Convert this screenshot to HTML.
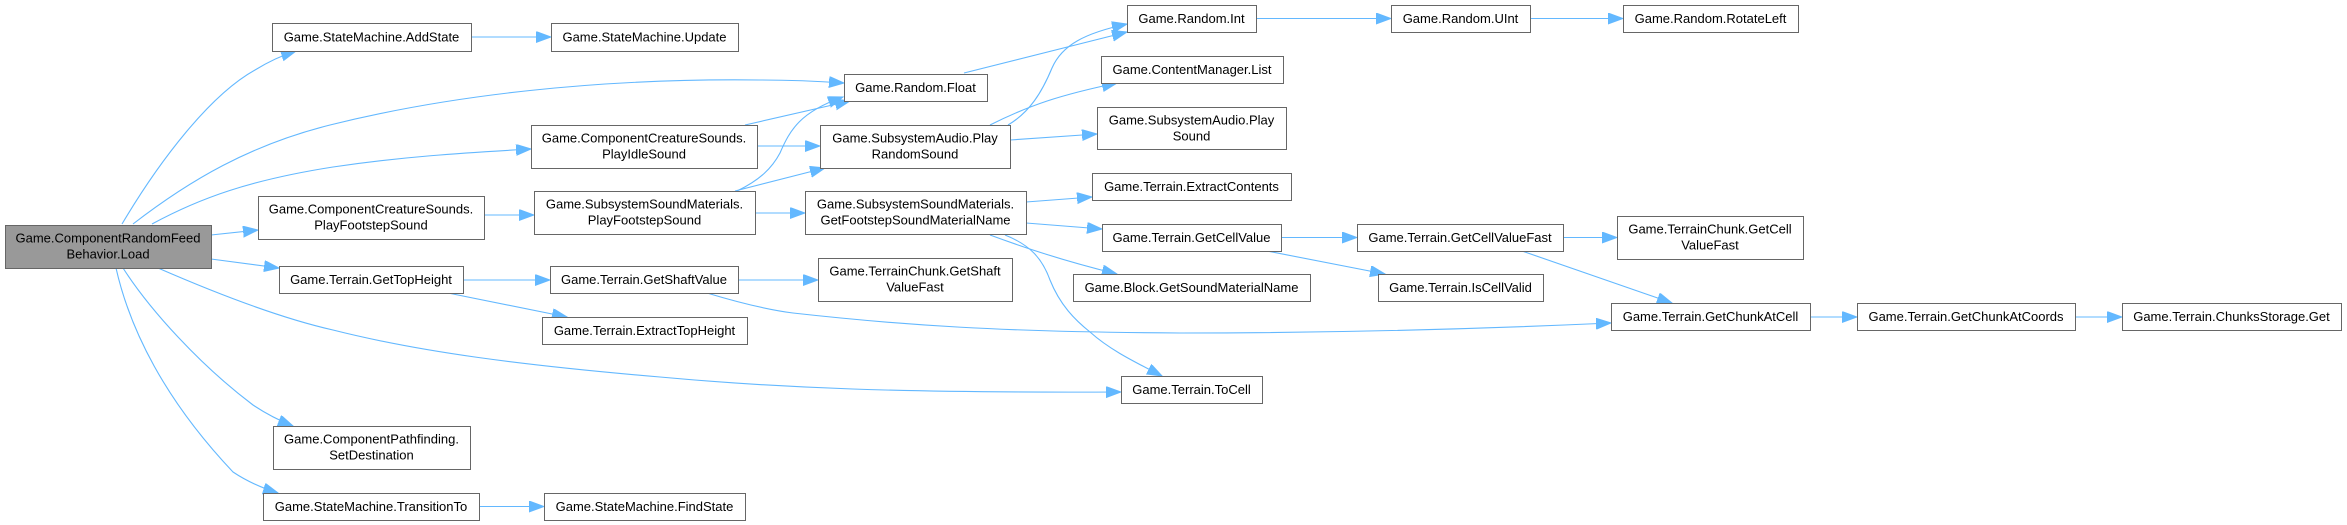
<!DOCTYPE html>
<html>
<head>
<meta charset="utf-8">
<style>
html,body{margin:0;padding:0;background:#fff;}
svg{display:block;}
text{font-family:"Liberation Sans",Arial,sans-serif;font-size:13px;fill:#000;text-anchor:middle;}
.n{fill:#fff;stroke:#666;stroke-width:1;}
.r{fill:#999;stroke:#666;stroke-width:1;}
.e{fill:none;stroke:#63b8ff;stroke-width:1.1;marker-end:url(#a);}
</style>
</head>
<body>
<svg width="2347" height="525" viewBox="0 0 2347 525" xmlns="http://www.w3.org/2000/svg">
<defs>
<marker id="a" markerWidth="16" markerHeight="12" refX="15" refY="5.5" orient="auto" markerUnits="userSpaceOnUse">
<path d="M0,0 L15,5.5 L0,11 z" fill="#63b8ff" stroke="#63b8ff" stroke-width="1"/>
</marker>
</defs>

<!-- edges -->
<path class="e" d="M471,37 L551,37"/>
<path class="e" d="M1256,18.5 L1391,18.5"/>
<path class="e" d="M1530,18.5 L1623,18.5"/>
<path class="e" d="M122,224 C160,160 210,95 255,70 C268,62 280,56 296,51"/>
<path class="e" d="M133,224 C190,180 250,145 330,125 C450,95 600,78 760,80 C790,80 815,81 844,83"/>
<path class="e" d="M152,224 C200,198 250,180 333,167 C400,157 460,153 531,149"/>
<path class="e" d="M211,235 L258,230"/>
<path class="e" d="M211,259 L279,268"/>
<path class="e" d="M158,268 C220,295 280,318 333,330 C420,352 520,365 660,377 C780,388 900,393 1121,392"/>
<path class="e" d="M123,268 C150,310 200,365 253,405 C265,413 278,420 293,426"/>
<path class="e" d="M116,268 C130,330 165,400 233,472 C248,482 262,488 278,493"/>
<path class="e" d="M484,215 L534,215"/>
<path class="e" d="M463,280 L550,280"/>
<path class="e" d="M448,293 L567,317"/>
<path class="e" d="M479,506.5 L544,506.5"/>
<path class="e" d="M745,125 L850,101"/>
<path class="e" d="M757,146 L820,146"/>
<path class="e" d="M737,191 C760,180 772,168 780,153 C790,130 800,112 843,97"/>
<path class="e" d="M735,191 L825,168"/>
<path class="e" d="M755,213 L805,213"/>
<path class="e" d="M738,280 L818,280"/>
<path class="e" d="M707,293 C740,303 770,310 793,313 C900,325 1000,332 1180,333 C1350,333 1500,328 1611,323"/>
<path class="e" d="M964,73 L1127,32"/>
<path class="e" d="M1008,125 C1030,112 1042,92 1052,68 C1062,45 1085,33 1127,24"/>
<path class="e" d="M990,125 C1030,105 1060,95 1117,83"/>
<path class="e" d="M1010,140 L1097,134"/>
<path class="e" d="M1026,202 L1092,197"/>
<path class="e" d="M1026,223 L1102,229"/>
<path class="e" d="M990,235 C1020,246 1060,260 1117,274"/>
<path class="e" d="M1005,235 C1030,245 1042,258 1050,280 C1060,305 1075,320 1090,332 C1110,350 1135,362 1162,376"/>
<path class="e" d="M1281,237.5 L1357,237.5"/>
<path class="e" d="M1267,251 L1385,274"/>
<path class="e" d="M1563,237.5 L1617,237.5"/>
<path class="e" d="M1522,251 L1672,303"/>
<path class="e" d="M1810,317 L1857,317"/>
<path class="e" d="M2075,317 L2122,317"/>

<!-- root node -->
<rect class="r" x="5.5" y="225.5" width="206" height="43"/>
<text x="108" y="242.5">Game.ComponentRandomFeed</text>
<text x="108" y="258.5">Behavior.Load</text>

<!-- single-line nodes -->
<rect class="n" x="272.5" y="23.5" width="199" height="28"/><text x="371.5" y="41.5">Game.StateMachine.AddState</text>
<rect class="n" x="551.5" y="23.5" width="187" height="28"/><text x="644.5" y="41.5">Game.StateMachine.Update</text>
<rect class="n" x="1127.5" y="5.5" width="129" height="27"/><text x="1191.5" y="23">Game.Random.Int</text>
<rect class="n" x="1391.5" y="5.5" width="139" height="27"/><text x="1460.5" y="23">Game.Random.UInt</text>
<rect class="n" x="1623.5" y="5.5" width="175" height="27"/><text x="1710.5" y="23">Game.Random.RotateLeft</text>
<rect class="n" x="1101.5" y="56.5" width="182" height="27"/><text x="1192" y="74">Game.ContentManager.List</text>
<rect class="n" x="844.5" y="74.5" width="143" height="27"/><text x="915.5" y="92">Game.Random.Float</text>
<rect class="n" x="1092.5" y="173.5" width="199" height="27"/><text x="1191.5" y="191">Game.Terrain.ExtractContents</text>
<rect class="n" x="1102.5" y="224.5" width="179" height="27"/><text x="1191.5" y="242">Game.Terrain.GetCellValue</text>
<rect class="n" x="1357.5" y="224.5" width="206" height="27"/><text x="1460" y="242">Game.Terrain.GetCellValueFast</text>
<rect class="n" x="279.5" y="266.5" width="184" height="27"/><text x="371" y="284">Game.Terrain.GetTopHeight</text>
<rect class="n" x="550.5" y="266.5" width="188" height="27"/><text x="644" y="284">Game.Terrain.GetShaftValue</text>
<rect class="n" x="1073.5" y="274.5" width="237" height="27"/><text x="1191.5" y="292">Game.Block.GetSoundMaterialName</text>
<rect class="n" x="1378.5" y="274.5" width="165" height="27"/><text x="1460.5" y="292">Game.Terrain.IsCellValid</text>
<rect class="n" x="1611.5" y="303.5" width="199" height="27"/><text x="1710.5" y="321">Game.Terrain.GetChunkAtCell</text>
<rect class="n" x="1857.5" y="303.5" width="218" height="27"/><text x="1966" y="321">Game.Terrain.GetChunkAtCoords</text>
<rect class="n" x="2122.5" y="303.5" width="219" height="27"/><text x="2231.5" y="321">Game.Terrain.ChunksStorage.Get</text>
<rect class="n" x="542.5" y="317.5" width="205" height="27"/><text x="644.5" y="335">Game.Terrain.ExtractTopHeight</text>
<rect class="n" x="1121.5" y="376.5" width="141" height="27"/><text x="1191.5" y="394">Game.Terrain.ToCell</text>
<rect class="n" x="263.5" y="493.5" width="216" height="27"/><text x="371" y="511">Game.StateMachine.TransitionTo</text>
<rect class="n" x="544.5" y="493.5" width="201" height="27"/><text x="644.5" y="511">Game.StateMachine.FindState</text>

<!-- two-line nodes -->
<rect class="n" x="531.5" y="125.5" width="226" height="43"/>
<text x="644" y="142.5">Game.ComponentCreatureSounds.</text><text x="644" y="158.5">PlayIdleSound</text>

<rect class="n" x="820.5" y="125.5" width="190" height="43"/>
<text x="915" y="142.5">Game.SubsystemAudio.Play</text><text x="915" y="158.5">RandomSound</text>

<rect class="n" x="1097.5" y="107.5" width="189" height="42"/>
<text x="1191.5" y="124.5">Game.SubsystemAudio.Play</text><text x="1191.5" y="140.5">Sound</text>

<rect class="n" x="258.5" y="196.5" width="226" height="43"/>
<text x="371" y="213.5">Game.ComponentCreatureSounds.</text><text x="371" y="229.5">PlayFootstepSound</text>

<rect class="n" x="534.5" y="191.5" width="221" height="43"/>
<text x="644.5" y="208.5">Game.SubsystemSoundMaterials.</text><text x="644.5" y="224.5">PlayFootstepSound</text>

<rect class="n" x="805.5" y="191.5" width="221" height="43"/>
<text x="915.5" y="208.5">Game.SubsystemSoundMaterials.</text><text x="915.5" y="224.5">GetFootstepSoundMaterialName</text>

<rect class="n" x="818.5" y="258.5" width="194" height="43"/>
<text x="915" y="275.5">Game.TerrainChunk.GetShaft</text><text x="915" y="291.5">ValueFast</text>

<rect class="n" x="1617.5" y="216.5" width="186" height="43"/>
<text x="1710" y="233.5">Game.TerrainChunk.GetCell</text><text x="1710" y="249.5">ValueFast</text>

<rect class="n" x="273.5" y="426.5" width="197" height="43"/>
<text x="371.5" y="443.5">Game.ComponentPathfinding.</text><text x="371.5" y="459.5">SetDestination</text>
</svg>
</body>
</html>
